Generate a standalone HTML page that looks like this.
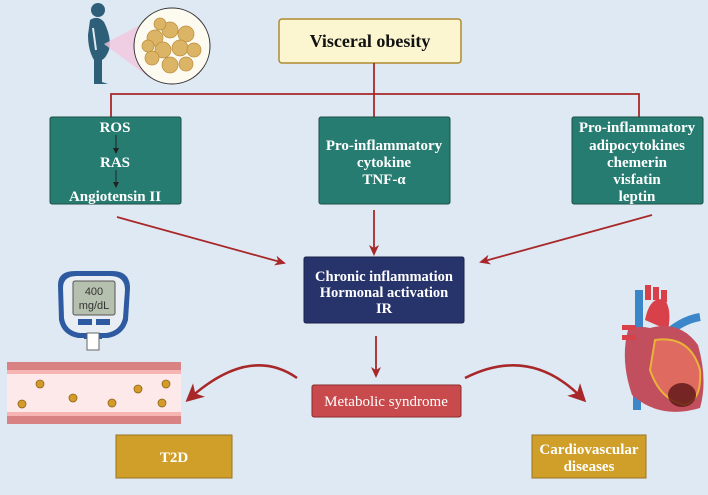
<!DOCTYPE html>
<html><head><meta charset="utf-8"><style>
html,body{margin:0;padding:0;background:#dfe9f3;}
svg{display:block;}
text{font-family:"Liberation Serif",serif;font-weight:bold;fill:#fff;text-anchor:middle;}
</style></head><body>
<svg width="708" height="495" viewBox="0 0 708 495" xmlns="http://www.w3.org/2000/svg">
<defs>
<marker id="ah" markerWidth="11" markerHeight="10" refX="9" refY="5" orient="auto" markerUnits="userSpaceOnUse"><path d="M0,0 L11,5 L0,10 L3,5 Z" fill="#a8282a"/></marker>
<marker id="bh" markerWidth="6" markerHeight="6" refX="4" refY="3" orient="auto" markerUnits="userSpaceOnUse"><path d="M0,0 L6,3 L0,6 Z" fill="#222"/></marker>
<marker id="big" markerWidth="18" markerHeight="18" refX="12" refY="9" orient="auto" markerUnits="userSpaceOnUse"><path d="M0,0 L18,9 L0,18 L5,9 Z" fill="#a8282a"/></marker>
</defs>
<rect width="708" height="495" fill="#dfe9f3"/>
<!-- person -->
<circle cx="98" cy="10" r="7" fill="#2e5f78"/>
<path d="M90,20 Q98,15 104,22 Q112,38 109,50 Q106,58 102,60 L102,82 L108,84 L94,84 L94,60 Q88,50 88,35 Z" fill="#2e5f78"/>
<path d="M93,28 L96,50" stroke="#dfe9f3" stroke-width="2" fill="none"/>
<path d="M104,44 L142,24 L150,78 Z" fill="#f2c7e0" opacity="0.8"/>
<circle cx="172" cy="46" r="38" fill="#fdfaf0" stroke="#333" stroke-width="1"/>
<g fill="#dcb465" stroke="#b98d3c" stroke-width="0.7">
<circle cx="155" cy="38" r="8"/><circle cx="170" cy="30" r="8"/><circle cx="186" cy="34" r="8"/><circle cx="163" cy="50" r="8"/><circle cx="180" cy="48" r="8"/><circle cx="194" cy="50" r="7"/><circle cx="152" cy="58" r="7"/><circle cx="170" cy="65" r="8"/><circle cx="186" cy="64" r="7"/><circle cx="160" cy="24" r="6"/><circle cx="148" cy="46" r="6"/>
</g>
<!-- top box -->
<rect x="279" y="19" width="182" height="44" rx="3" fill="#fbf6cf" stroke="#b08a2f" stroke-width="1.5"/>
<text x="370" y="47" style="fill:#111;font-size:18px">Visceral obesity</text>
<g stroke="#a8282a" stroke-width="1.8" fill="none">
<path d="M374,63 V117"/><path d="M111,117 V94 H639 V117"/>
</g>
<!-- green boxes -->
<g fill="#277c71" stroke="#1f4f47" stroke-width="1">
<rect x="50" y="117" width="131" height="87" rx="2"/>
<rect x="319" y="117" width="131" height="87" rx="2"/>
<rect x="572" y="117" width="131" height="87" rx="2"/>
</g>
<g style="font-size:15px">
<text x="115" y="132">ROS</text><text x="115" y="167">RAS</text><text x="115" y="201">Angiotensin II</text>
<text x="384" y="150">Pro-inflammatory</text><text x="384" y="167">cytokine</text><text x="384" y="184">TNF-α</text>
<text x="637" y="132">Pro-inflammatory</text><text x="637" y="150">adipocytokines</text><text x="637" y="167">chemerin</text><text x="637" y="184">visfatin</text><text x="637" y="201">leptin</text>
</g>
<g stroke="#222" stroke-width="1" marker-end="url(#bh)"><path d="M116,135 V152"/><path d="M116,170 V186"/></g>
<!-- arrows to center -->
<g stroke="#a8282a" stroke-width="1.8" marker-end="url(#ah)">
<path d="M117,217 L284,263"/><path d="M374,210 L374,254"/><path d="M652,215 L481,262"/>
<path d="M376,336 L376,376"/>
</g>
<rect x="304" y="257" width="160" height="66" rx="2" fill="#27336b" stroke="#1a2248"/>
<g style="font-size:14.5px"><text x="384" y="281">Chronic inflammation</text><text x="384" y="297">Hormonal activation</text><text x="384" y="313">IR</text></g>
<rect x="312" y="385" width="149" height="32" rx="2" fill="#c94a4c" stroke="#8a2a2c"/>
<text x="386" y="406" style="font-size:15px;font-weight:normal">Metabolic syndrome</text>
<!-- curved arrows -->
<path d="M297,378 Q250,345 190,398" stroke="#a8282a" stroke-width="2.5" fill="none" marker-end="url(#big)"/>
<path d="M465,378 Q530,345 582,398" stroke="#a8282a" stroke-width="2.5" fill="none" marker-end="url(#big)"/>
<!-- vessel -->
<rect x="7" y="362" width="174" height="62" fill="#fde9ea"/>
<rect x="7" y="362" width="174" height="8" fill="#d98283"/><rect x="7" y="370" width="174" height="4" fill="#f6b4b2"/>
<rect x="7" y="412" width="174" height="4" fill="#f6b4b2"/><rect x="7" y="416" width="174" height="8" fill="#d98283"/>
<g fill="#d49a2a" stroke="#8c6418" stroke-width="0.8">
<circle cx="40" cy="384" r="4"/><circle cx="22" cy="404" r="4"/><circle cx="73" cy="398" r="4"/><circle cx="112" cy="403" r="4"/><circle cx="138" cy="389" r="4"/><circle cx="166" cy="384" r="4"/><circle cx="162" cy="403" r="4"/>
</g>
<!-- glucometer -->
<path d="M58,285 Q58,271 75,271 L112,271 Q130,271 130,288 L128,320 Q124,335 108,338 L78,338 Q62,335 59,320 Z" fill="#2d5aa0"/>
<path d="M63,288 Q63,276 77,276 L110,276 Q125,276 125,290 L123,318 Q120,331 106,333 L80,333 Q66,331 64,318 Z" fill="#e8eef4"/>
<rect x="73" y="281" width="42" height="34" rx="2" fill="#b6c0ae" stroke="#555"/>
<text x="94" y="295" style="fill:#333;font-family:'Liberation Sans',sans-serif;font-weight:normal;font-size:11px">400</text>
<text x="94" y="309" style="fill:#333;font-family:'Liberation Sans',sans-serif;font-weight:normal;font-size:11px">mg/dL</text>
<rect x="78" y="319" width="14" height="6" fill="#2d5aa0"/><rect x="96" y="319" width="14" height="6" fill="#2d5aa0"/>
<rect x="84" y="333" width="18" height="6" fill="#2d5aa0"/>
<rect x="87" y="333" width="12" height="17" fill="#fff" stroke="#666"/>
<!-- heart -->
<rect x="635" y="290" width="8" height="50" fill="#3b86c8"/>
<rect x="633" y="360" width="8" height="50" fill="#3b86c8"/>
<path d="M648,300 V285 M656,300 V287 M664,302 V290" stroke="#d8414a" stroke-width="6"/>
<path d="M645,320 Q650,295 665,300 Q672,310 668,330 Z" fill="#d8414a"/>
<path d="M660,340 Q680,320 700,317" stroke="#3b86c8" stroke-width="8" fill="none"/>
<path d="M628,330 Q620,360 632,395 Q660,420 700,408 Q708,380 698,345 Q680,320 650,328 Q636,325 628,330 Z" fill="#c24f5e"/>
<path d="M655,340 Q690,335 700,370 Q702,400 685,405 Q660,400 650,370 Z" fill="#de6a60" stroke="#e9b33a" stroke-width="2"/>
<ellipse cx="682" cy="395" rx="14" ry="12" fill="#5a1414" opacity="0.8"/>
<rect x="622" y="325" width="14" height="5" fill="#d8414a"/><rect x="622" y="335" width="14" height="5" fill="#d8414a"/>
<!-- bottom boxes -->
<rect x="116" y="435" width="116" height="43" fill="#d09f2a" stroke="#9a7420"/>
<text x="174" y="462" style="font-size:15px">T2D</text>
<rect x="532" y="435" width="114" height="43" fill="#d09f2a" stroke="#9a7420"/>
<text x="589" y="454" style="font-size:15px">Cardiovascular</text><text x="589" y="471" style="font-size:15px">diseases</text>
</svg>
</body></html>
